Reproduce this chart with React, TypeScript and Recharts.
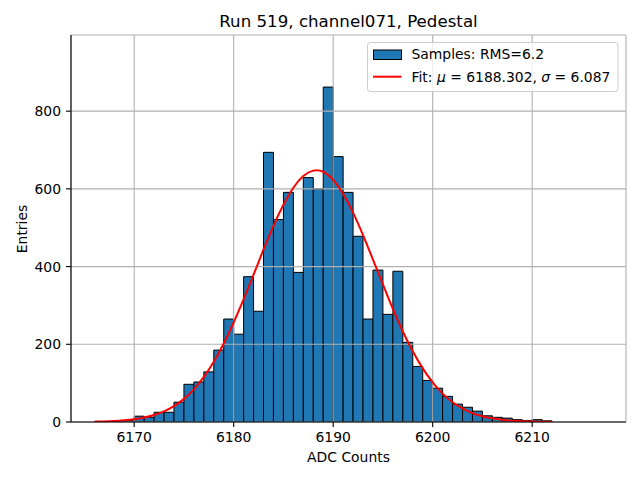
import React from 'react';
import { ComposedChart, Bar, Line, XAxis, YAxis, CartesianGrid } from 'recharts';

// ---- data ----
const binStarts = [
  6166, 6167, 6168, 6169, 6170, 6171, 6172, 6173, 6174, 6175, 6176, 6177, 6178, 6179, 6180, 6181,
  6182, 6183, 6184, 6185, 6186, 6187, 6188, 6189, 6190, 6191, 6192, 6193, 6194, 6195, 6196, 6197,
  6198, 6199, 6200, 6201, 6202, 6203, 6204, 6205, 6206, 6207, 6208, 6209, 6210, 6211,
];
const counts = [
  1, 1, 2, 4, 15, 12, 25, 25, 51, 97, 103, 129, 185, 265, 226, 374,
  285, 694, 521, 591, 385, 629, 600, 862, 683, 591, 478, 265, 391, 277, 388, 205,
  143, 107, 87, 66, 46, 38, 28, 16, 12, 10, 6, 4, 6, 3,
];
const fitX = [
  6166, 6167, 6168, 6169, 6170, 6171, 6172, 6173, 6174, 6175, 6176, 6177, 6178, 6179, 6180, 6181,
  6182, 6183, 6184, 6185, 6186, 6187, 6188, 6189, 6190, 6191, 6192, 6193, 6194, 6195, 6196, 6197,
  6198, 6199, 6200, 6201, 6202, 6203, 6204, 6205, 6206, 6207, 6208, 6209, 6210, 6211, 6212,
];
const fitY = [
  0.8, 1.4, 2.5, 4.3, 7.0, 11.4, 18, 27.5, 41, 59.5, 84, 116, 155, 202, 256, 316,
  379, 444, 505, 559, 603, 633, 647, 644, 623, 587, 539, 481, 418, 354, 291, 233,
  182, 138, 102, 73, 51, 35, 23, 15, 9.5, 5.8, 3.4, 2.0, 1.1, 0.6, 0.3,
];
const xTicks = [6170, 6180, 6190, 6200, 6210];
const yTicks = [0, 200, 400, 600, 800];
const xDomain = [6163.65, 6219.43];
const yDomain = [0, 996];

const titleText = 'Run 519, channel071, Pedestal';
const xLabel = 'ADC Counts';
const yLabel = 'Entries';
const samplesName = 'Samples: RMS=6.2';
const fitMu = '6188.302';
const fitSigma = '6.087';

// ---- layout / style ----
const W = 640;
const H = 480;
const M = { top: 35, right: 14, bottom: 0, left: 0 };
const Y_AXIS_W = 71;
const X_AXIS_H = 58;
const PLOT_W = W - M.left - M.right - Y_AXIS_W;
const PX_PER_UNIT = PLOT_W / (xDomain[1] - xDomain[0]);
const FONT = '"DejaVu Sans", sans-serif';
const BLUE = '#1f77b4';

const rows = fitX.map((x, i) => ({
  lx: x,
  fit: fitY[i],
  bx: (i < binStarts.length ? binStarts[i] : x) + 0.5,
  count: i < counts.length ? counts[i] : null,
}));

const tickStyle = { fill: '#000', fontSize: 13.9, fontFamily: FONT };

export default function App() {
  return (
    <div style={{ position: 'absolute', left: 0, top: 0, width: W, height: H, background: '#fff', fontFamily: FONT }}>
      <ComposedChart width={W} height={H} data={rows} margin={M} barCategoryGap={0} barGap={0}>
        <XAxis
          dataKey="bx"
          type="number"
          domain={xDomain}
          allowDataOverflow
          ticks={xTicks}
          height={X_AXIS_H}
          tick={tickStyle}
          tickSize={5}
          tickMargin={5}
          axisLine={{ stroke: '#000', strokeWidth: 1.1 }}
          tickLine={{ stroke: '#000', strokeWidth: 1.1 }}
        />
        <XAxis
          xAxisId="top"
          dataKey="lx"
          type="number"
          orientation="top"
          domain={xDomain}
          allowDataOverflow
          height={0}
          tick={false}
          tickLine={false}
          axisLine={{ stroke: '#000', strokeWidth: 1.1 }}
        />
        <YAxis
          type="number"
          domain={yDomain}
          allowDataOverflow
          ticks={yTicks}
          width={Y_AXIS_W}
          tick={tickStyle}
          tickSize={5}
          tickMargin={5}
          axisLine={{ stroke: '#000', strokeWidth: 1.1 }}
          tickLine={{ stroke: '#000', strokeWidth: 1.1 }}
        />
        <YAxis
          yAxisId="right"
          orientation="right"
          type="number"
          domain={yDomain}
          allowDataOverflow
          width={0}
          tick={false}
          tickLine={false}
          axisLine={{ stroke: '#000', strokeWidth: 1.1 }}
        />
        <Bar
          dataKey="count"
          name={samplesName}
          fill={BLUE}
          stroke="#000"
          strokeWidth={1}
          barSize={PX_PER_UNIT - 0.001}
          isAnimationActive={false}
        />
        <CartesianGrid stroke="#b0b0b0" strokeWidth={1.1} zIndex={350} />
        <Line
          xAxisId="top"
          dataKey="fit"
          name="Fit"
          type="natural"
          stroke="#ff0000"
          strokeWidth={2}
          dot={false}
          activeDot={false}
          isAnimationActive={false}
        />
      </ComposedChart>
      <svg
        width={W}
        height={H}
        style={{ position: 'absolute', left: 0, top: 0, pointerEvents: 'none' }}
        fontFamily={FONT}
      >
        <text x={348.5} y={27.3} textAnchor="middle" fontSize={16.67} fill="#000">
          {titleText}
        </text>
        <text x={348.5} y={462.3} textAnchor="middle" fontSize={13.9} fill="#000">
          {xLabel}
        </text>
        <text
          x={0}
          y={0}
          transform={`translate(26.5, 229) rotate(-90)`}
          textAnchor="middle"
          fontSize={13.9}
          fill="#000"
        >
          {yLabel}
        </text>
        <rect x={367.5} y={42.5} width={250.5} height={49} rx={3} ry={3} fill="rgba(255,255,255,0.8)" stroke="#cccccc" strokeWidth={1} />
        <rect x={373.5} y={50} width={28} height={9.5} fill={BLUE} stroke="#000" strokeWidth={1} />
        <text x={411.5} y={59.3} fontSize={13.9} fill="#000">
          {samplesName}
        </text>
        <line x1={373} y1={76.7} x2={401.5} y2={76.7} stroke="#ff0000" strokeWidth={2} />
        <text x={411.5} y={81.7} fontSize={13.9} fill="#000">
          {'Fit: '}
          <tspan fontStyle="italic">μ</tspan>
          {` = ${fitMu}, `}
          <tspan fontStyle="italic">σ</tspan>
          {` = ${fitSigma}`}
        </text>
      </svg>
    </div>
  );
}
